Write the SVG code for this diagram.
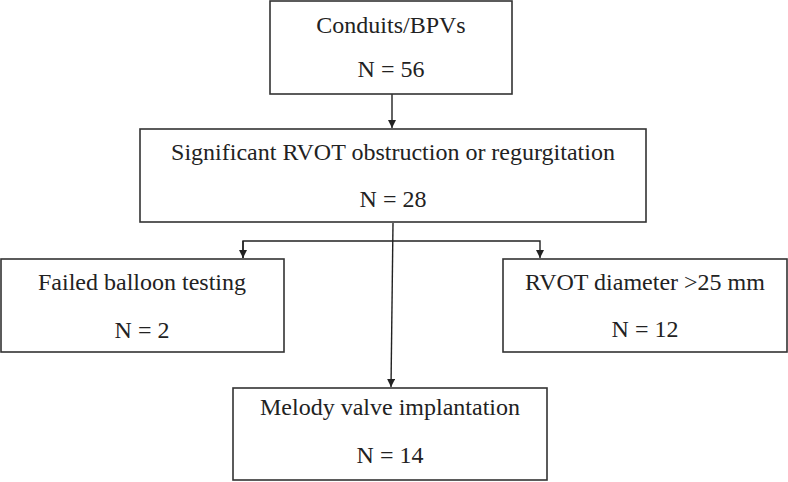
<svg xmlns="http://www.w3.org/2000/svg" width="788" height="482" viewBox="0 0 788 482">
<defs>
<style>
.box{fill:#fff;stroke:#333;stroke-width:1.6}
.t{font-family:'Liberation Serif','DejaVu Serif',serif;font-size:24px;fill:#222;text-anchor:middle}
.c{stroke:#222;stroke-width:1.4;fill:none}
</style>
<marker id="ah" viewBox="0 0 10 10" refX="10" refY="5" markerWidth="8" markerHeight="8" markerUnits="userSpaceOnUse" orient="auto">
<path d="M0,0 L10,5 L0,10 Z" fill="#222"/>
</marker>
</defs>
<rect width="788" height="482" fill="#fff"/>
<g id="connectors">
<line class="c" x1="392" y1="94" x2="392" y2="128" marker-end="url(#ah)"/>
<line class="c" x1="393" y1="223" x2="391" y2="387" marker-end="url(#ah)"/>
<polyline class="c" points="243,258 243,241 540,241 540,258" marker-end="url(#ah)"/>
<line class="c" x1="243" y1="241" x2="243" y2="258" marker-end="url(#ah)"/>
</g>
<g id="n1">
<rect class="box" x="270" y="1" width="242" height="93"/>
<text class="t" font-family="Liberation Serif, serif" x="391" y="33">Conduits/BPVs</text>
<text class="t" font-family="Liberation Serif, serif" x="391" y="77">N = 56</text>
</g>
<g id="n2">
<rect class="box" x="140" y="129" width="506" height="93"/>
<text class="t" font-family="Liberation Serif, serif" x="393" y="160">Significant RVOT obstruction or regurgitation</text>
<text class="t" font-family="Liberation Serif, serif" x="393" y="207">N = 28</text>
</g>
<g id="n3">
<rect class="box" x="1" y="259" width="283" height="93"/>
<text class="t" font-family="Liberation Serif, serif" x="142" y="290">Failed balloon testing</text>
<text class="t" font-family="Liberation Serif, serif" x="142" y="338">N = 2</text>
</g>
<g id="n4">
<rect class="box" x="503" y="259" width="284" height="93"/>
<text class="t" font-family="Liberation Serif, serif" x="645" y="290">RVOT diameter &gt;25 mm</text>
<text class="t" font-family="Liberation Serif, serif" x="645" y="337">N = 12</text>
</g>
<g id="n5">
<rect class="box" x="233" y="388" width="314" height="92"/>
<text class="t" font-family="Liberation Serif, serif" x="390" y="415">Melody valve implantation</text>
<text class="t" font-family="Liberation Serif, serif" x="390" y="463">N = 14</text>
</g>
</svg>
